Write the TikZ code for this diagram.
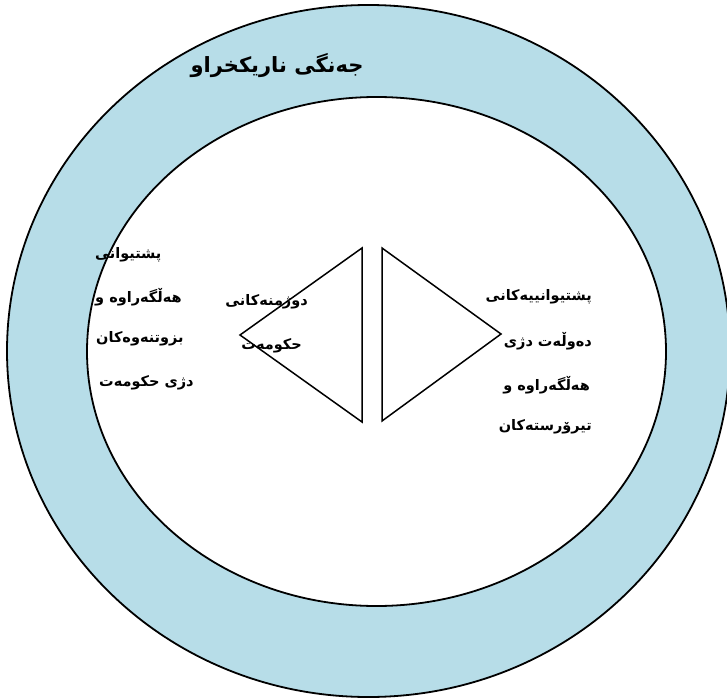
\documentclass[tikz,border=0pt]{standalone}
\usepackage{fontspec}
\TeXXeTstate=1
\newfontfamily\kurd[Script=Arabic]{DejaVu Sans}
\definecolor{ringblue}{RGB}{183,221,232}
\begin{document}
\begin{tikzpicture}[x=1pt,y=-1pt,
  outline/.style={draw=black,line width=1.8pt},
  triline/.style={draw=black,line width=1.5pt,line join=miter},
  txt/.style={font=\kurd\bfseries\fontsize{14.5}{17}\selectfont,inner sep=0pt},
  ttl/.style={font=\kurd\bfseries\fontsize{21}{25}\selectfont,inner sep=0pt}]
\useasboundingbox (0,0) rectangle (727,700);
% ring
\draw[outline,fill=ringblue] (368.5,351) ellipse [x radius=361.5,y radius=346];
\draw[outline,fill=white] (376.5,351.5) ellipse [x radius=289.5,y radius=254.5];
% triangles
\coordinate (l1) at (362,248);
\coordinate (l2) at (362,422);
\coordinate (l3) at (240,335);
\coordinate (r1) at (382,248);
\coordinate (r2) at (382,421);
\coordinate (r3) at (501,334);
\draw[triline] (l1) -- (l3) -- (l2) -- cycle;
\draw[triline] (r1) -- (r3) -- (r2) -- cycle;
% title
\node[ttl,anchor=center] (title) at (277,66) {\beginR جەنگی ناریکخراو\endR};
% left block
\node[txt,anchor=west] (a1) at (95,255) {\beginR پشتیوانی\endR};
\node[txt,anchor=west] (a2) at (95,297) {\beginR هەڵگەراوە و\endR};
\node[txt,anchor=west] (a3) at (96,339) {\beginR بزوتنەوەکان\endR};
\node[txt,anchor=west] (a4) at (99,383) {\beginR دژی حکومەت\endR};
% middle block
\node[txt,anchor=east] (m1) at (308,302) {\beginR دوژمنەکانی\endR};
\node[txt,anchor=east] (m2) at (302,346) {\beginR حکومەت\endR};
% right block
\node[txt,anchor=east] (b1) at (592,297) {\beginR پشتیوانییەکانی\endR};
\node[txt,anchor=east] (b2) at (592,341) {\beginR دەوڵەت دژی\endR};
\node[txt,anchor=east] (b3) at (590,385) {\beginR هەڵگەراوە و\endR};
\node[txt,anchor=east] (b4) at (592,427) {\beginR تیرۆرستەکان\endR};
\end{tikzpicture}
\end{document}
